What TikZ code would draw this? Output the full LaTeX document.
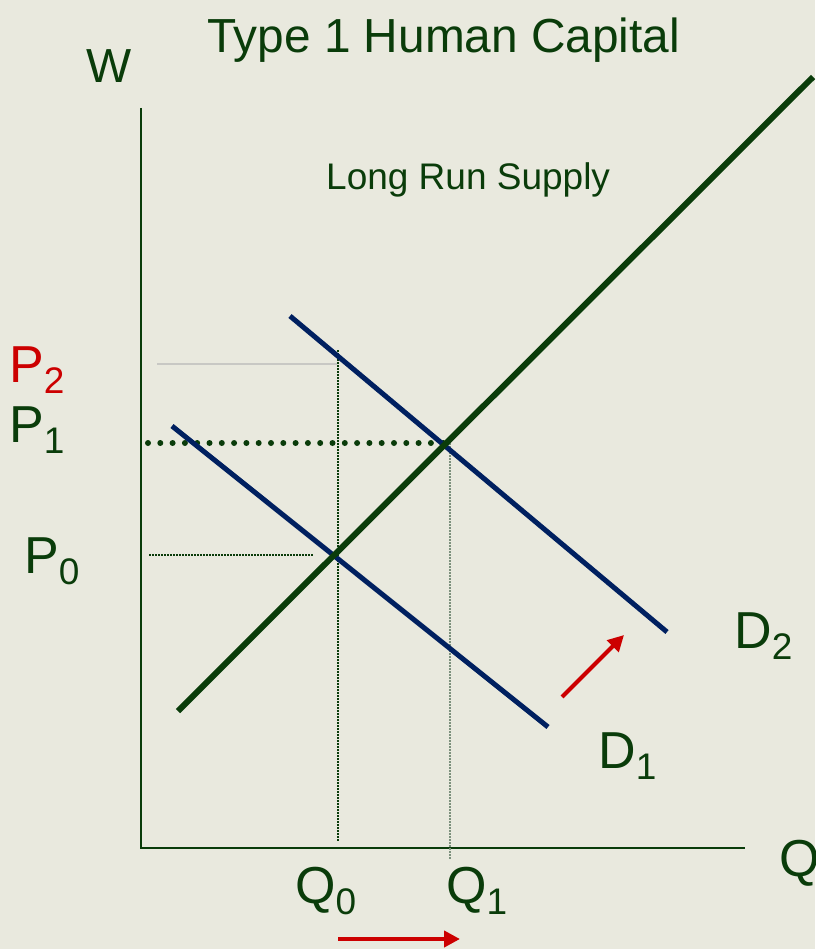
\documentclass[tikz,border=0pt]{standalone}
\usepackage{fontspec}
\setmainfont{Liberation Sans}
\usetikzlibrary{arrows.meta}
\definecolor{HcBack}{RGB}{233,233,222}
\definecolor{HcGreen}{RGB}{10,60,10}
\definecolor{HcNavy}{RGB}{0,32,96}
\definecolor{HcRed}{RGB}{204,0,0}
\definecolor{HcPale}{RGB}{200,200,196}
\definecolor{HcFaint}{RGB}{125,145,125}
\newcommand{\hcsub}[1]{\raisebox{-0.22em}{\fontsize{37}{40}\selectfont #1}}
\tikzset{
  hc/label/.style={
    anchor=base west,
    inner sep=0pt,
    text=HcGreen,
    font=\fontsize{52}{60}\selectfont
  },
  hc/title/.style={
    anchor=base west,
    inner sep=0pt,
    text=HcGreen,
    font=\fontsize{47.8}{54}\selectfont
  },
  hc/note/.style={
    anchor=base west,
    inner sep=0pt,
    text=HcGreen,
    font=\fontsize{37}{42}\selectfont
  },
  hc/axis/.style={draw=HcGreen, line width=2pt},
  hc/supply/.style={draw=HcGreen, line width=6pt},
  hc/demand/.style={draw=HcNavy, line width=5pt},
  hc/bigdots/.style={draw=HcGreen, line width=6pt, line cap=round, dash pattern=on 0pt off 12.3pt},
  hc/dots/.style={draw=HcGreen, line width=1.5pt, dash pattern=on 1.5pt off 1.5pt},
  hc/faintdots/.style={draw=HcFaint, line width=1.5pt, dash pattern=on 1.5pt off 1.5pt},
  hc/paleline/.style={draw=HcPale, line width=1.5pt},
  hc/shift/.style={-{Triangle[length=16pt,width=16pt]}, draw=HcRed, fill=HcRed, line width=4pt}
}
\begin{document}
\begin{tikzpicture}[x=1pt,y=-1pt]
  \fill[HcBack] (0,0) rectangle (815,949);
  \useasboundingbox (0,0) rectangle (815,949);

  % axes
  \coordinate (top) at (141,108);
  \coordinate (orig) at (141,848);
  \coordinate (right) at (745,848);
  \draw[hc/axis] (top) -- (orig) -- (right);

  % dotted guides
  \coordinate (p2l) at (157,364);
  \coordinate (p2r) at (337,364);
  \coordinate (p1l) at (148,443);
  \coordinate (e1) at (446,443);
  \coordinate (p0l) at (149,555);
  \coordinate (p0r) at (313,555);
  \coordinate (q0t) at (338,350);
  \coordinate (q0b) at (338,842);
  \coordinate (q1t) at (450,443);
  \coordinate (q1b) at (450,860);
  \draw[hc/paleline] (p2l) -- (p2r);
  \draw[hc/bigdots] (p1l) -- (e1);
  \draw[hc/dots] (p0l) -- (p0r);
  \draw[hc/dots] (q0t) -- (q0b);
  \draw[hc/faintdots] (q1t) -- (q1b);

  % curves
  \coordinate (s0) at (178,711);
  \coordinate (s1) at (813,77);
  \coordinate (d1a) at (172,426);
  \coordinate (d1b) at (548,727);
  \coordinate (d2a) at (290,316);
  \coordinate (d2b) at (667,632);
  \draw[hc/demand] (d1a) -- (d1b);
  \draw[hc/demand] (d2a) -- (d2b);
  \draw[hc/supply] (s0) -- (s1);

  % shifts
  \coordinate (qs0) at (338,939);
  \coordinate (qs1) at (460,939);
  \coordinate (ds0) at (562,697);
  \coordinate (ds1) at (624,635);
  \draw[hc/shift] (qs0) -- (qs1);
  \draw[hc/shift] (ds0) -- (ds1);

  % texts
  \node[hc/title] (title) at (207,53) {Type 1 Human Capital};
  \node[hc/title] (w) at (86,83) {W};
  \node[hc/note] (lrs) at (326,190) {Long Run Supply};
  \node[hc/label, text=HcRed] (p2) at (9,382) {P\hcsub{2}};
  \node[hc/label] (p1) at (9,442) {P\hcsub{1}};
  \node[hc/label] (p0) at (24,573) {P\hcsub{0}};
  \node[hc/label] (q0) at (295,903) {Q\hcsub{0}};
  \node[hc/label] (q1) at (446,903) {Q\hcsub{1}};
  \node[hc/label] (q) at (779,876) {Q};
  \node[hc/label] (d1) at (598,768) {D\hcsub{1}};
  \node[hc/label] (d2) at (734,648) {D\hcsub{2}};
\end{tikzpicture}
\end{document}
